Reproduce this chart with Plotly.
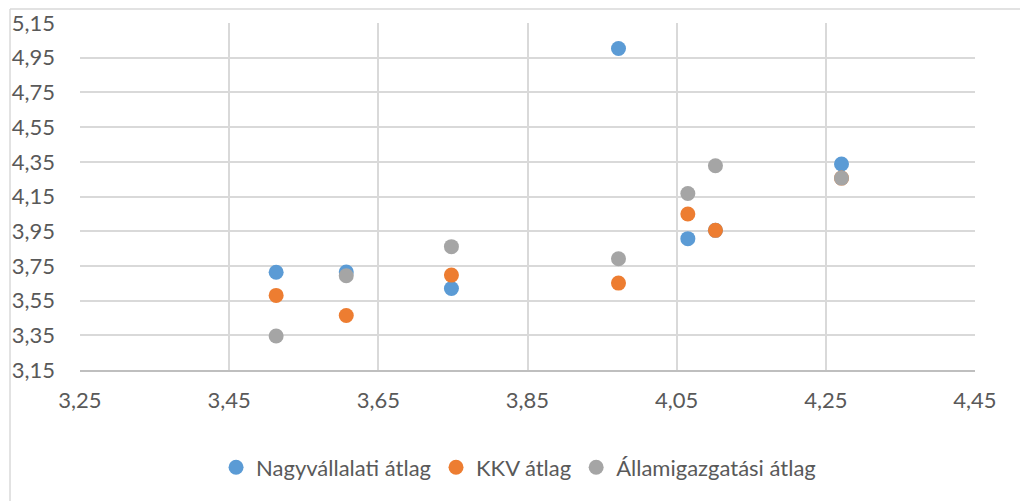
import plotly.graph_objects as go

# averages
x_vals = [3.513, 3.607, 3.748, 3.972, 4.065, 4.102, 4.271]
nagy_y = [3.713, 3.715, 3.620, 5.003, 3.907, 3.955, 4.337]
kkv_y = [3.580, 3.464, 3.697, 3.651, 4.049, 3.955, 4.256]
allam_y = [3.346, 3.693, 3.861, 3.791, 4.167, 4.327, 4.256]

series = [
    ("Nagyvállalati átlag", nagy_y, "#5B9BD5"),
    ("KKV átlag", kkv_y, "#ED7D31"),
    ("Államigazgatási átlag", allam_y, "#A5A5A5"),
]

FONT = "Lato, 'Liberation Sans', sans-serif"
TEXT = "#595959"
GRID = "#D9D9D9"

fig = go.Figure()
for name, ys, color in series:
    fig.add_trace(go.Scatter(
        x=x_vals, y=ys, mode="markers", name=name,
        marker=dict(size=15, color=color),
    ))

# page body adds an 8px offset, so the figure is sized/margined to compensate
fig.update_layout(
    width=1020, height=493,
    paper_bgcolor="white", plot_bgcolor="white",
    separators=", ",
    font=dict(family=FONT, size=22, color=TEXT),
    margin=dict(l=72, r=53, t=15, b=131),
    xaxis=dict(
        range=[3.25, 4.45], tick0=3.25, dtick=0.2, tickformat=".2f",
        showgrid=True, gridcolor=GRID, gridwidth=1.5,
        showline=True, linecolor="#BFBFBF", linewidth=1.5,
        zeroline=False, ticklabelstandoff=10, automargin=False,
    ),
    yaxis=dict(
        range=[3.15, 5.15], tick0=3.15, dtick=0.2, tickformat=".2f",
        showgrid=True, gridcolor=GRID, gridwidth=1.5,
        zeroline=False, ticklabelstandoff=24, automargin=False,
    ),
    legend=dict(
        orientation="h", x=0.49, xanchor="center", y=-0.281, yanchor="middle",
        font=dict(size=22, color=TEXT), itemwidth=30,
    ),
    shapes=[
        dict(type="line", xref="paper", yref="paper", x0=-0.0782, x1=-0.0782,
             y0=1.04, y1=-0.40, line=dict(color=GRID, width=1.5)),
        dict(type="line", xref="paper", yref="paper", x0=-0.0782, x1=1.07,
             y0=1.04, y1=1.04, line=dict(color=GRID, width=1.5)),
    ],
)

fig.write_html("out.html")
